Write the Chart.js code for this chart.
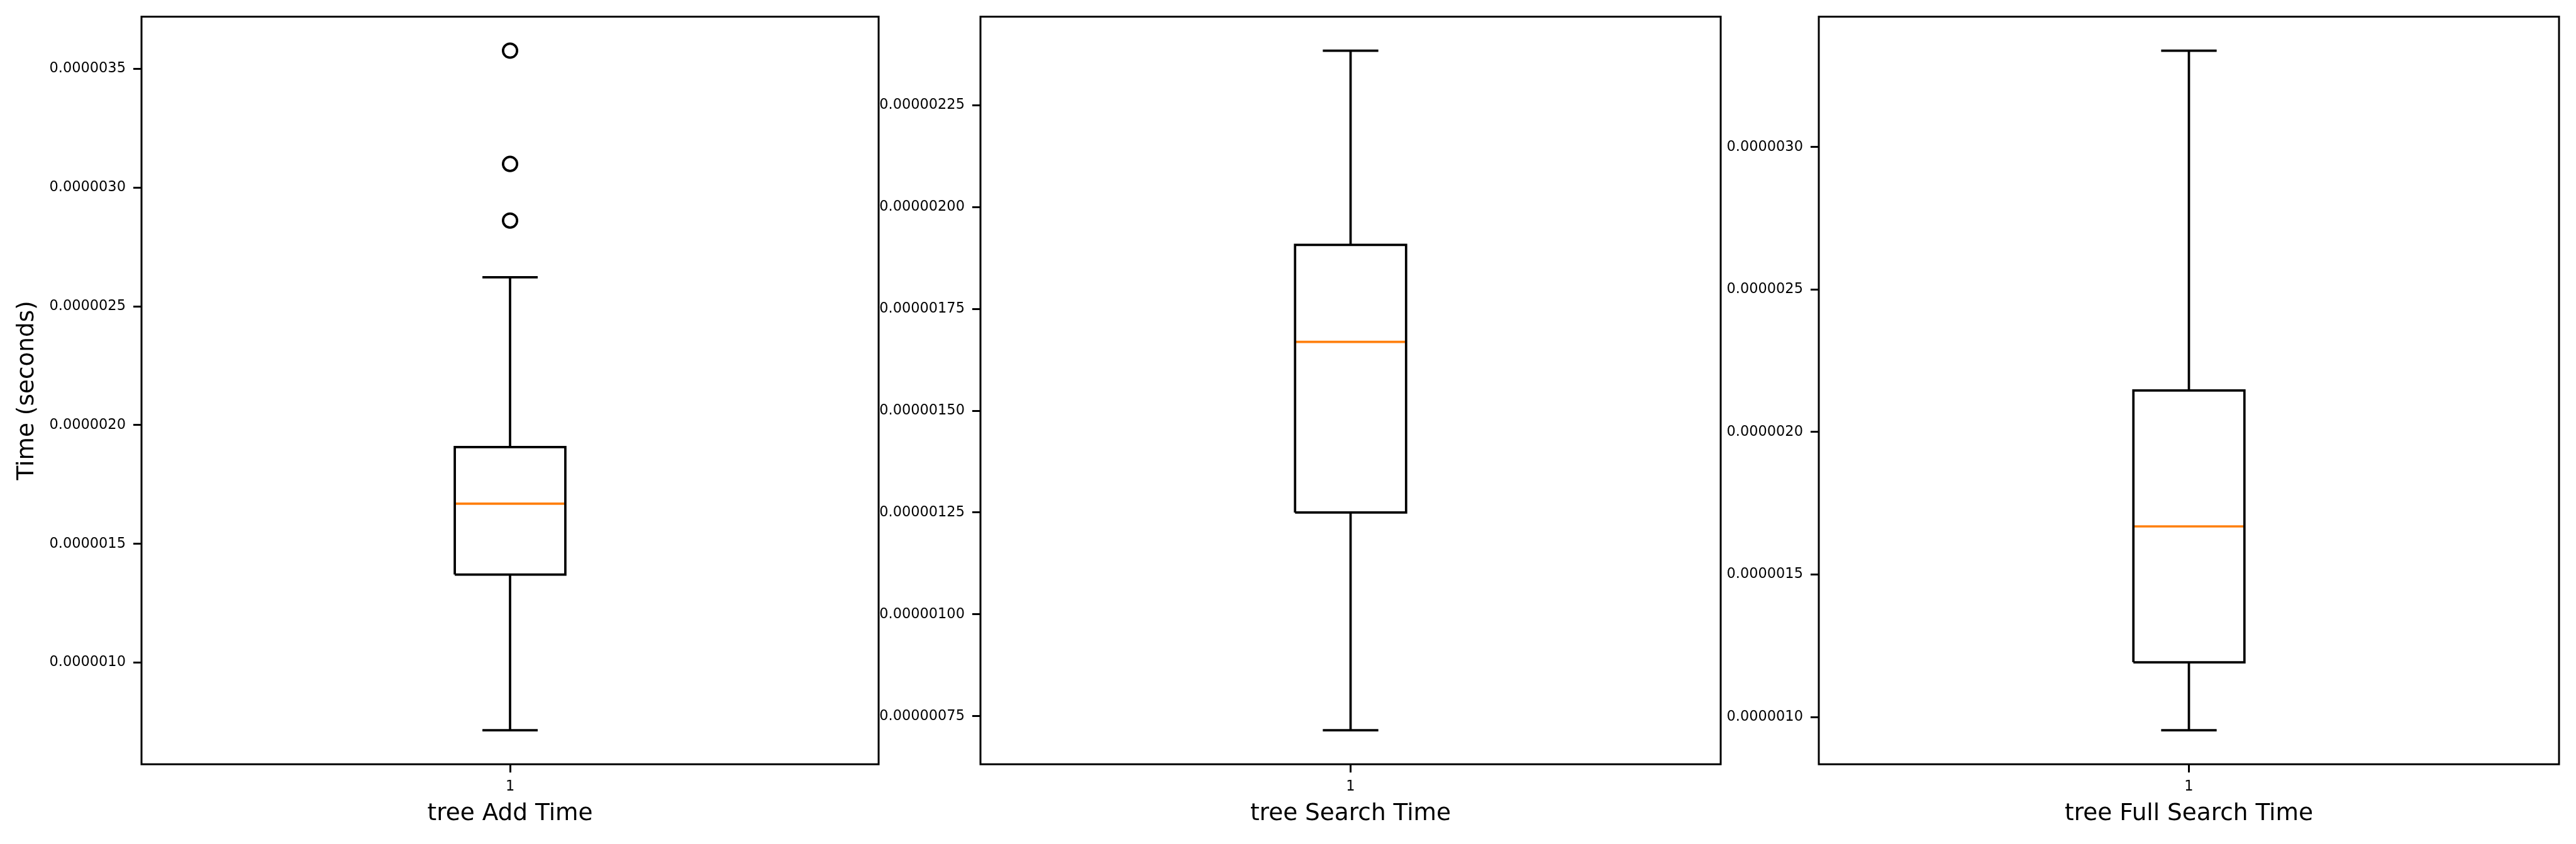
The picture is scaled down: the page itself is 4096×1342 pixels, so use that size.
<!DOCTYPE html>
<html>
<head>
<meta charset="utf-8">
<script src="https://cdn.jsdelivr.net/npm/chart.js@4.4.1/dist/chart.umd.min.js"></script>
<style>
  html, body { margin: 0; padding: 0; background: #fff; }
  body { width: 4096px; height: 1342px; position: relative; overflow: hidden; }
  canvas { position: absolute; top: 0; }
</style>
</head>
<body>
<canvas id="c0"></canvas>
<canvas id="c1"></canvas>
<canvas id="c2"></canvas>
<script>
// one box per panel, values in seconds
const titles = ["tree Add Time", "tree Search Time", "tree Full Search Time"];
const whiskerLow  = [7.153e-7, 7.153e-7, 9.537e-7];
const quart1      = [1.3709e-6, 1.2500e-6, 1.1921e-6];
const median      = [1.6689e-6, 1.6689e-6, 1.6689e-6];
const quart3      = [1.9073e-6, 1.9073e-6, 2.1458e-6];
const whiskerHigh = [2.6226e-6, 2.3842e-6, 3.3379e-6];
const outliers    = [[2.8610e-6, 3.0994e-6, 3.5763e-6], [], []];

const yTicks = [
  [1.0e-6, 1.5e-6, 2.0e-6, 2.5e-6, 3.0e-6, 3.5e-6],
  [0.75e-6, 1.0e-6, 1.25e-6, 1.5e-6, 1.75e-6, 2.0e-6, 2.25e-6],
  [1.0e-6, 1.5e-6, 2.0e-6, 2.5e-6, 3.0e-6]
];
const yDecimals = [7, 8, 7];
const yTitle = "Time (seconds)";

// sizes (px at this window size)
const PT = 3.741;
const tickFont = 6 * PT, labelFont = 10 * PT;
const lineW = 1 * PT, spineW = 0.8 * PT, tickLen = 3.5 * PT;
const panelLeft = [225, 1559, 2892];
const panelW = 1177;
const areaTop = 26.5, areaBottom = 1215.2;
const yAxisW = 220, rightPad = 10;
const boxHalf = 0.075, capHalf = 0.0375;

Chart.defaults.font.family = "'DejaVu Sans', sans-serif";
Chart.defaults.color = "#000";

const frame = {
  id: "frame",
  afterDatasetsDraw(chart) {
    const { ctx, chartArea: a } = chart;
    ctx.save();
    ctx.strokeStyle = "#000";
    ctx.lineWidth = spineW;
    ctx.strokeRect(a.left, a.top, a.right - a.left, a.bottom - a.top);
    ctx.restore();
  }
};

function seg(points, color) {
  return {
    data: points,
    showLine: true,
    borderColor: color,
    borderWidth: lineW,
    borderJoinStyle: "miter",
    pointRadius: 0,
    tension: 0
  };
}

function makeChart(i) {
  const canvas = document.getElementById("c" + i);
  canvas.width = yAxisW + panelW + rightPad;
  canvas.height = 1342;
  canvas.style.left = (panelLeft[i] - yAxisW) + "px";

  const lo = Math.min(whiskerLow[i], ...outliers[i]);
  const hi = Math.max(whiskerHigh[i], ...outliers[i]);
  const pad = (hi - lo) * 0.05;

  const x0 = 1 - boxHalf, x1 = 1 + boxHalf;
  const datasets = [
    seg([{x: x0, y: quart1[i]}, {x: x1, y: quart1[i]}, {x: x1, y: quart3[i]},
         {x: x0, y: quart3[i]}, {x: x0, y: quart1[i]}], "#000"),
    seg([{x: 1, y: quart1[i]}, {x: 1, y: whiskerLow[i]}], "#000"),
    seg([{x: 1, y: quart3[i]}, {x: 1, y: whiskerHigh[i]}], "#000"),
    seg([{x: 1 - capHalf, y: whiskerLow[i]}, {x: 1 + capHalf, y: whiskerLow[i]}], "#000"),
    seg([{x: 1 - capHalf, y: whiskerHigh[i]}, {x: 1 + capHalf, y: whiskerHigh[i]}], "#000"),
    seg([{x: x0, y: median[i]}, {x: x1, y: median[i]}], "#ff7f0e"),
    {
      data: outliers[i].map(v => ({x: 1, y: v})),
      showLine: false,
      pointStyle: "circle",
      pointRadius: 11.2,
      pointBorderWidth: lineW,
      pointBorderColor: "#000",
      pointBackgroundColor: "rgba(0,0,0,0)"
    }
  ];

  new Chart(canvas, {
    type: "scatter",
    data: { datasets },
    options: {
      responsive: false,
      devicePixelRatio: 1,
      animation: false,
      layout: { padding: { top: areaTop, right: rightPad, left: 0, bottom: 0 } },
      plugins: { legend: { display: false }, tooltip: { enabled: false } },
      scales: {
        x: {
          type: "linear",
          min: 0.5,
          max: 1.5,
          afterBuildTicks: s => { s.ticks = [{ value: 1 }]; },
          afterFit: s => { s.height = 1342 - areaBottom; },
          ticks: { font: { size: tickFont }, padding: 9, maxRotation: 0, callback: () => "1" },
          grid: { drawOnChartArea: false, tickLength: tickLen, tickWidth: spineW, tickColor: "#000" },
          border: { display: false },
          title: { display: true, text: titles[i], font: { size: labelFont }, padding: { top: 0, bottom: 25 } }
        },
        y: {
          type: "linear",
          min: lo - pad,
          max: hi + pad,
          afterBuildTicks: s => { s.ticks = yTicks[i].map(v => ({ value: v })); },
          afterFit: s => { s.width = yAxisW; },
          ticks: { font: { size: tickFont }, padding: 12, callback: v => v.toFixed(yDecimals[i]) },
          grid: { drawOnChartArea: false, tickLength: tickLen, tickWidth: spineW, tickColor: "#000" },
          border: { display: false },
          title: { display: i === 0, text: yTitle, font: { size: labelFont }, padding: { top: 16, bottom: 0 } }
        }
      }
    },
    plugins: [frame]
  });
}

[0, 1, 2].forEach(makeChart);
</script>
</body>
</html>
